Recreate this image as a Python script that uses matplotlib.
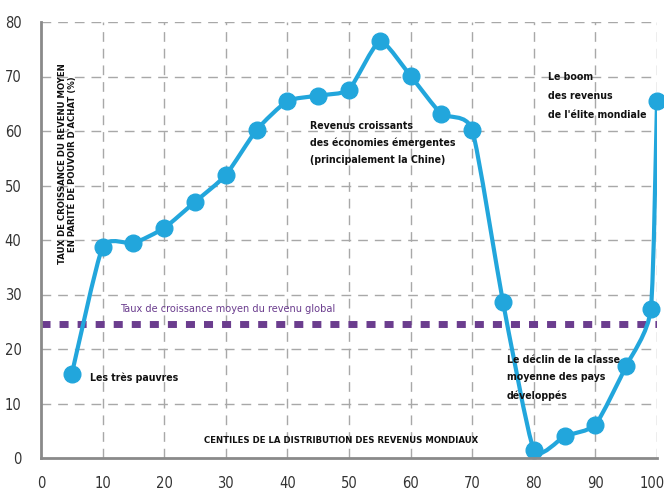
import matplotlib

matplotlib.use("Agg")
import matplotlib.pyplot as plt
import numpy as np
from matplotlib import font_manager
from matplotlib.path import Path
from matplotlib.patches import PathPatch
from matplotlib.transforms import ScaledTranslation


centiles = [5, 10, 15, 20, 25, 30, 35, 40, 45, 50, 55, 60, 65, 70, 75, 80, 85, 90, 95, 99, 100]
growth = [15.4, 38.7, 39.4, 42.2, 47.0, 51.9, 60.2, 65.5, 66.5, 67.6, 76.5, 70.1, 63.1, 60.2,
          28.6, 1.5, 4.0, 6.1, 16.9, 27.3, 65.5]
global_mean = 24.5
x_ticks = [0, 10, 20, 30, 40, 50, 60, 70, 80, 90, 100]
y_ticks = [0, 10, 20, 30, 40, 50, 60, 70, 80]

LINE_BLUE = "#22a6dc"
PURPLE = "#6b3d8e"
GRID_GREY = "#a8a8a8"
AXIS_GREY = "#8a8a8a"


def pick_font():
    fonts = font_manager.fontManager.ttflist
    names = {f.name for f in fonts}
    if "Liberation Sans Narrow" in names:
        return {"family": "Liberation Sans Narrow"}
    if any(f.name == "DejaVu Sans" and f.stretch == "condensed" for f in fonts):
        return {"family": "DejaVu Sans", "stretch": "condensed"}
    return {"family": "DejaVu Sans"}


def smooth_path(xs, ys, tension=0.55):
    # Catmull-Rom curve drawn as cubic Bezier segments through the points
    pts = np.column_stack([xs, ys]).astype(float)
    padded = np.vstack([pts[0], pts, pts[-1]])
    k = tension / 6
    verts = [pts[0]]
    codes = [Path.MOVETO]
    for i in range(1, len(padded) - 2):
        p0, p1, p2, p3 = padded[i - 1], padded[i], padded[i + 1], padded[i + 2]
        verts += [p1 + (p2 - p0) * k, p2 - (p3 - p1) * k, p2]
        codes += [Path.CURVE4] * 3
    return Path(verts, codes)


font = pick_font()
stretch = font.get("stretch", "normal")
plt.rcParams["font.family"] = font["family"]

fig = plt.figure(figsize=(6.64, 4.92), dpi=100)
ax = fig.add_axes([41 / 664, 34 / 492, 616 / 664, 436 / 492])
ax.set_xlim(0, 100)
ax.set_ylim(0, 80)

for x in x_ticks[1:]:
    ax.axvline(x, color=GRID_GREY, lw=1, ls=(0, (7, 5)), zorder=0)
for y in y_ticks[1:]:
    ax.axhline(y, color=GRID_GREY, lw=1, ls=(0, (7, 5)), zorder=0)

ax.axhline(global_mean, color=PURPLE, lw=5, ls=(0, (1.3, 1.3)), zorder=1)

ax.add_patch(PathPatch(smooth_path(centiles, growth), facecolor="none",
                       edgecolor=LINE_BLUE, lw=3, capstyle="round", zorder=2))
ax.plot(centiles, growth, "o", color=LINE_BLUE, ms=12, mec=LINE_BLUE, zorder=3, clip_on=False)

for side in ("top", "right"):
    ax.spines[side].set_visible(False)
for side in ("left", "bottom"):
    ax.spines[side].set_color(AXIS_GREY)
    ax.spines[side].set_linewidth(2)
    ax.spines[side].set_zorder(4)

ax.set_xticks(x_ticks)
ax.set_yticks(y_ticks)
ax.tick_params(length=0, labelsize=10.5, labelcolor="#333333")
ax.tick_params(axis="x", pad=13)
ax.tick_params(axis="y", pad=14)
for lab in ax.get_xticklabels() + ax.get_yticklabels():
    lab.set_fontstretch(stretch)
# keep the "100" label inside the canvas
last = ax.get_xticklabels()[-1]
last.set_transform(last.get_transform() + ScaledTranslation(-5 / 100, 0, fig.dpi_scale_trans))

txt = dict(fontsize=7.6, color="#111111", fontweight="bold", fontstretch=stretch, zorder=5)
ax.text(4.3, 54, "TAUX DE CROISSANCE DU REVENU MOYEN\nEN PARITÉ DE POUVOIR D'ACHAT (%)",
        rotation=90, ha="center", va="center", linespacing=1.15,
        **{**txt, "fontsize": 6.8})
ax.text(48.7, 3.3, "CENTILES DE LA DISTRIBUTION DES REVENUS MONDIAUX", ha="center",
        va="center", **{**txt, "fontsize": 6.8})
ax.text(12.8, 27.3, "Taux de croissance moyen du revenu global", ha="left", va="center",
        fontsize=7.8, color=PURPLE, fontstretch=stretch)
ax.text(8.0, 14.7, "Les très pauvres", ha="left", va="center", **txt)
ax.text(43.7, 57.8, "Revenus croissants\ndes économies émergentes\n(principalement la Chine)",
        ha="left", va="center", linespacing=1.85, **txt)
ax.text(82.3, 66.4, "Le boom\ndes revenus\nde l'élite mondiale", ha="left", va="center",
        linespacing=2.15, **txt)
ax.text(75.6, 14.7, "Le déclin de la classe\nmoyenne des pays\ndéveloppés", ha="left",
        va="center", linespacing=1.9, **txt)

fig.savefig("out.png", dpi=100)
